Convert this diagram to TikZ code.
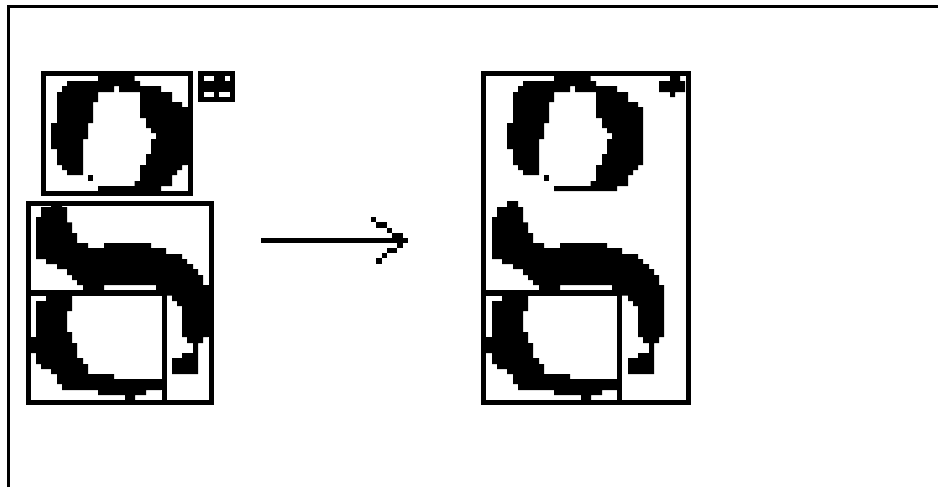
\documentclass[tikz,border=0pt]{standalone}
\tikzset{
  ink/.style={fill=black,draw=none},
  boxline/.style={draw=black,line width=3.9pt,line join=miter},
  thinrule/.style={draw=black,line width=4pt},
  outerline/.style={draw=black,line width=2.3pt},
  shaft/.style={draw=black,line width=3.6pt}
}
\newcommand{\glyphO}{%
 \fill[ink] (252,48)--(362,48)--(362,63)--(378,63)--(378,78)--(441,78)--(441,96)--(474,96)--(474,126)--(504,126)--(504,141)--(519,141)--(519,315)--(504,315)--(504,330)--(489,330)--(489,345)--(474,345)--(474,378)--(441,378)--(441,393)--(252,393)--(252,378)--(362,378)--(362,363)--(378,363)--(378,315)--(396,315)--(396,282)--(411,282)--(411,237)--(426,237)--(426,219)--(411,219)--(411,204)--(396,204)--(396,174)--(378,174)--(378,96)--(315,96)--(315,78)--(300,78)--(300,96)--(252,96)--(252,126)--(237,126)--(237,189)--(222,189)--(222,237)--(207,237)--(207,345)--(159,345)--(159,330)--(144,330)--(144,315)--(129,315)--(129,267)--(111,267)--(111,189)--(129,189)--(129,96)--(144,96)--(144,78)--(159,78)--(159,63)--(252,63)--cycle;
 \fill[ink] (222,345) rectangle (237,363);}
\newcommand{\glyphS}{%
 \fill[ink] (111,423)--(144,423)--(144,441)--(159,441)--(159,487)--(174,487)--(174,519)--(189,519)--(189,549)--(222,549)--(222,564)--(270,564)--(270,549)--(411,549)--(411,564)--(456,564)--(456,582)--(504,582)--(504,597)--(519,597)--(519,612)--(537,612)--(537,627)--(552,627)--(552,645)--(567,645)--(567,675)--(582,675)--(582,831)--(567,831)--(567,849)--(552,849)--(552,942)--(474,942)--(474,894)--(504,894)--(504,879)--(537,879)--(537,849)--(519,849)--(519,831)--(504,831)--(504,738)--(489,738)--(489,723)--(474,723)--(474,707)--(426,707)--(426,675)--(270,675)--(270,691)--(207,691)--(207,675)--(189,675)--(189,660)--(174,660)--(174,645)--(159,645)--(159,627)--(129,627)--(129,612)--(96,612)--(96,597)--(66,597)--(66,471)--(81,471)--(81,441)--(111,441)--cycle;
 \fill[ink] (96,700)--(174,700)--(174,753)--(159,753)--(159,816)--(174,816)--(174,849)--(189,849)--(189,894)--(207,894)--(207,912)--(222,912)--(222,942)--(300,942)--(300,957)--(441,957)--(441,990)--(396,990)--(396,1005)--(363,1005)--(363,1020)--(333,1020)--(333,1005)--(252,1005)--(252,990)--(144,990)--(144,972)--(129,972)--(129,942)--(111,942)--(111,927)--(81,927)--(81,912)--(66,912)--(66,879)--(48,879)--(48,831)--(66,831)--(66,723)--(96,723)--cycle;}
\begin{document}
\begin{tikzpicture}[x=0.75pt,y=-0.75pt]
\useasboundingbox (0,0) rectangle (938,487);
% outer frame
\draw[outerline] (8.8,487) -- (8.8,6.3) -- (938,6.3);
% left glyphs
\begin{scope}[shift={(14,60)},x=0.25pt,y=-0.25pt]
 \glyphO \glyphS
\end{scope}
% where the left glyphs run into their boxes
\fill[ink] (185,107) rectangle (190,165);
\fill[ink] (205,285) rectangle (211,337);
\fill[ink] (158,379) rectangle (164,390);
\draw[boxline] (43.7,73.7) rectangle (190.3,193.3);
\draw[boxline] (28.5,203.5) rectangle (211.5,402.3);
\draw[thinrule] (31,293) -- (164.5,293);
\draw[thinrule] (164.5,293) -- (164.5,402);
% small icon
\fill[ink] (198,71) rectangle (235,102);
\begin{scope}[shift={(0,50)},x=0.25pt,y=-0.25pt]
 \fill[white] (611,78) rectangle (642,93);
 \fill[white] (674,78) rectangle (690,93);
 \fill[white] (611,125) rectangle (642,140);
 \fill[white] (658,125) rectangle (690,140);
\end{scope}
% arrow
\coordinate (arrowtail) at (261,240.5);
\coordinate (arrowtip) at (408,240.5);
\draw[shaft] (arrowtail) -- (arrowtip);
\begin{scope}[shift={(250,200)},x=0.25pt,y=-0.25pt]
 \fill[ink] (363,51) rectangle (378,66);
 \fill[ink] (378,66) rectangle (411,84);
 \fill[ink] (411,84) rectangle (426,99);
 \fill[ink] (426,99) rectangle (459,114);
 \fill[ink] (441,129) rectangle (459,144);
 \fill[ink] (411,144) rectangle (441,159);
 \fill[ink] (396,159) rectangle (411,174);
 \fill[ink] (378,174) rectangle (396,192);
\end{scope}
% right glyphs
\begin{scope}[shift={(470,60)},x=0.25pt,y=-0.25pt]
 \glyphO \glyphS
 \fill[ink] (600,48)--(630,48)--(630,63)--(645,63)--(645,96)--(615,96)--(615,111)--(600,111)--(600,96)--(567,96)--(567,63)--(600,63)--cycle;
\end{scope}
\draw[boxline] (483.5,73.5) rectangle (688.5,402.3);
\draw[thinrule] (486,293) -- (619.5,293);
\draw[thinrule] (619.5,293) -- (619.5,402);
\end{tikzpicture}
\end{document}
